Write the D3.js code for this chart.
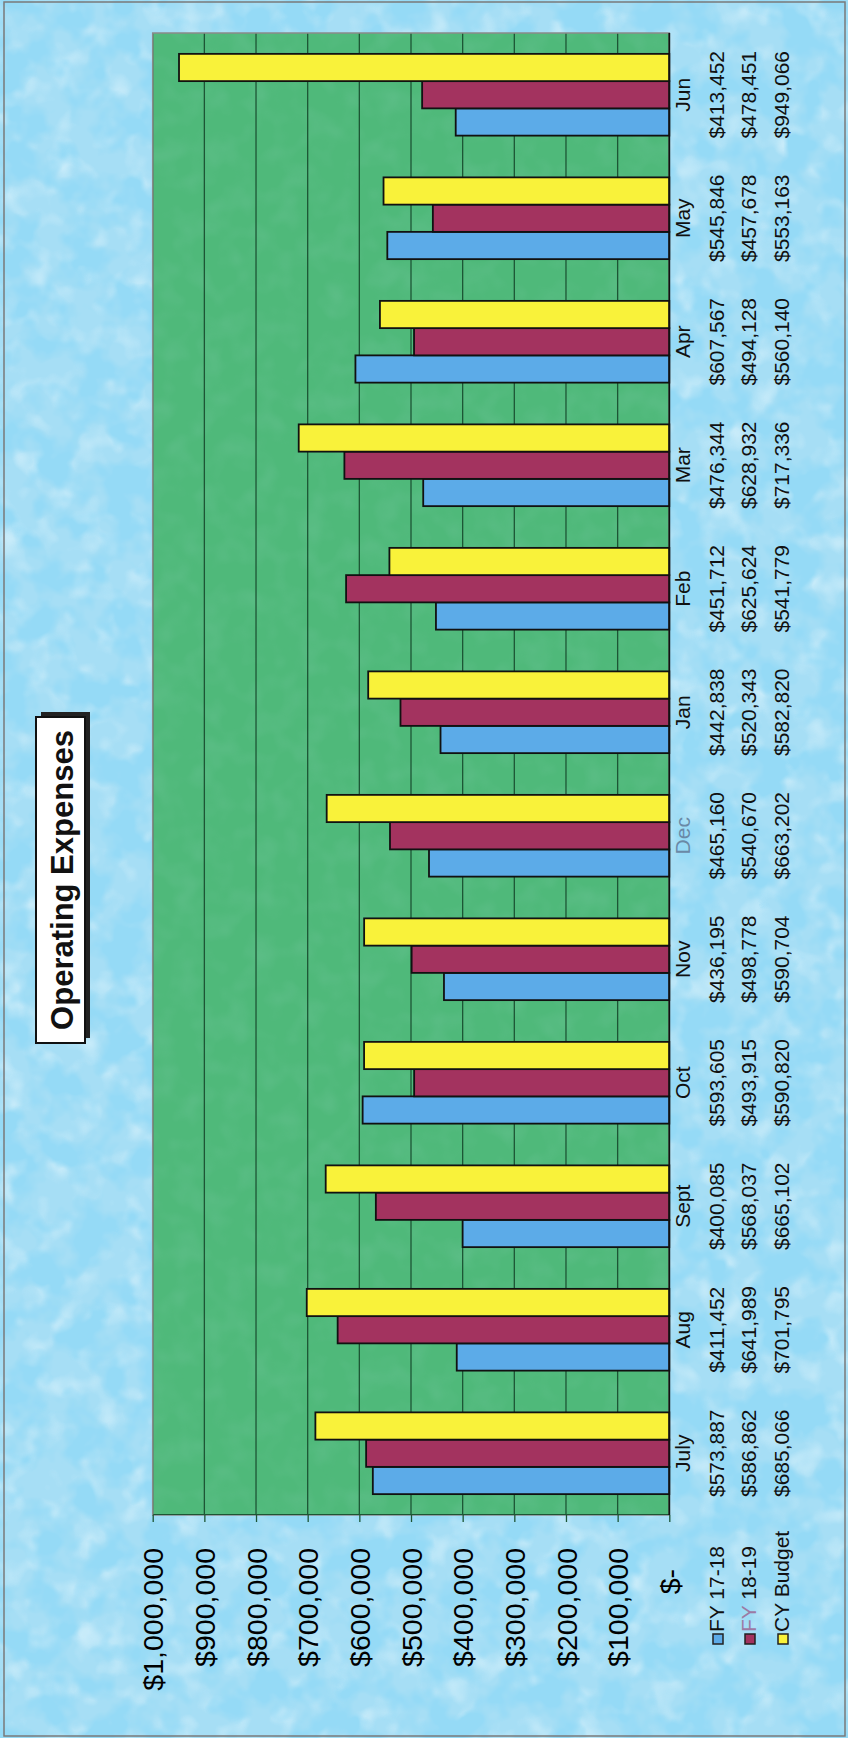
<!DOCTYPE html>
<html><head><meta charset="utf-8">
<script src="https://cdn.jsdelivr.net/npm/d3@7"></script>
<style>html,body{margin:0;padding:0;background:#fff}svg{display:block}</style>
</head><body>
<svg id="c" width="848" height="1738"></svg>
<script>
// ---- data ----
const months = ["July","Aug","Sept","Oct","Nov","Dec","Jan","Feb","Mar","Apr","May","Jun"];
const seriesNames = ["FY 17-18","FY 18-19","CY Budget"];
const fy1718 = [573887,411452,400085,593605,436195,465160,442838,451712,476344,607567,545846,413452];
const fy1819 = [586862,641989,568037,493915,498778,540670,520343,625624,628932,494128,457678,478451];
const cyBudget = [685066,701795,665102,590820,590704,663202,582820,541779,717336,560140,553163,949066];
const tickValues = [0,100000,200000,300000,400000,500000,600000,700000,800000,900000,1000000];
const tickLabels = ["$-","$100,000","$200,000","$300,000","$400,000","$500,000","$600,000","$700,000","$800,000","$900,000","$1,000,000"];
const titleText = "Operating Expenses";

// ---- styles ----
const seriesColors = ["#5cabe8","#a3335f","#f9f23a"];
const FONT = "'Liberation Sans', Arial, Helvetica, sans-serif";
const W = 1738, H = 848; // landscape frame, rotated -90deg into portrait page

const svg = d3.select("#c");
const defs = svg.append("defs");
const f = defs.append("filter").attr("id","water").attr("x",0).attr("y",0).attr("width","100%").attr("height","100%");
f.append("feTurbulence").attr("type","fractalNoise").attr("baseFrequency","0.028").attr("numOctaves",3).attr("seed",7).attr("result","n");
f.append("feColorMatrix").attr("in","n").attr("type","matrix")
  .attr("values","0 0 0 0 0.30  0 0 0 0 0.70  0 0 0 0 0.92  4.5 0 0 0 -1.9");
const f2 = defs.append("filter").attr("id","shine").attr("x",0).attr("y",0).attr("width","100%").attr("height","100%");
f2.append("feTurbulence").attr("type","fractalNoise").attr("baseFrequency","0.04").attr("numOctaves",2).attr("seed",21).attr("result","n");
f2.append("feColorMatrix").attr("in","n").attr("type","matrix")
  .attr("values","0 0 0 0 0.88  0 0 0 0 0.97  0 0 0 0 1  2.6 0 0 0 -1.25");
const f3 = defs.append("filter").attr("id","grass").attr("x",0).attr("y",0).attr("width","100%").attr("height","100%");
f3.append("feTurbulence").attr("type","fractalNoise").attr("baseFrequency","0.04").attr("numOctaves",2).attr("seed",4).attr("result","n");
f3.append("feColorMatrix").attr("in","n").attr("type","matrix")
  .attr("values","0 0 0 0 0.25  0 0 0 0 0.62  0 0 0 0 0.45  1.2 0 0 0 -0.5");

// page background
svg.append("rect").attr("width",848).attr("height",1738).attr("fill","#a6def5");
svg.append("rect").attr("width",848).attr("height",1738).attr("filter","url(#shine)").attr("opacity",0.45);
svg.append("rect").attr("width",848).attr("height",1738).attr("filter","url(#water)");
svg.append("rect").attr("x",4).attr("y",2).attr("width",841).attr("height",1734)
  .attr("fill","none").attr("stroke","#7a7a7a").attr("stroke-width",1.5);

const g = svg.append("g").attr("transform",`translate(0,${W}) rotate(-90)`);

// ---- scales ----
const plot = {x0:223, x1:1705, y0:152.7, y1:669.3};
const x = d3.scaleBand().domain(months).range([plot.x0, plot.x1]).paddingInner(0.338).paddingOuter(0.169);
const xs = d3.scaleBand().domain(seriesNames).range([0, x.bandwidth()]);
const y = d3.scaleLinear().domain([0, 1000000]).range([plot.y1, plot.y0]);

// plot area
g.append("rect").attr("x",plot.x0).attr("y",plot.y0).attr("width",plot.x1-plot.x0).attr("height",plot.y1-plot.y0)
  .attr("fill","#4fb97a");
g.append("rect").attr("x",plot.x0).attr("y",plot.y0).attr("width",plot.x1-plot.x0).attr("height",plot.y1-plot.y0)
  .attr("filter","url(#grass)").attr("opacity",0.35);

// gridlines
g.append("g").selectAll("line").data(tickValues.slice(1)).join("line")
  .attr("x1",plot.x0).attr("x2",plot.x1).attr("y1",d=>y(d)).attr("y2",d=>y(d))
  .attr("stroke","#1d5535").attr("stroke-width",1.3);

g.append("rect").attr("x",plot.x0).attr("y",plot.y0).attr("width",plot.x1-plot.x0).attr("height",plot.y1-plot.y0)
  .attr("fill","none").attr("stroke","#8a8a8a").attr("stroke-width",1.5);

// value axis
const yAxis = d3.axisLeft(y).tickValues(tickValues).tickSize(7).tickSizeOuter(0)
  .tickFormat((d,i)=>tickLabels[i]);
const ya = g.append("g").attr("transform",`translate(${plot.x0},0)`).call(yAxis);
ya.select(".domain").attr("stroke","#1d5535");
ya.selectAll(".tick line").attr("stroke","#1d5535").attr("stroke-width",1.3);
ya.selectAll(".tick text").attr("x",d=>d===0?-54:-33).attr("font-family",FONT).attr("font-size",28.5)
  .attr("fill","#000").attr("dy","0.36em");

// bars
const series = [fy1718, fy1819, cyBudget];
const groups = g.append("g").selectAll("g").data(months).join("g")
  .attr("transform",d=>`translate(${x(d)},0)`);
groups.selectAll("rect").data((m,i)=>series.map((s,k)=>({name:seriesNames[k], v:s[i], k})))
  .join("rect")
  .attr("x",d=>xs(d.name)).attr("width",xs.bandwidth())
  .attr("y",d=>y(d.v)).attr("height",d=>y(0)-y(d.v))
  .attr("fill",d=>seriesColors[d.k]).attr("stroke","#111").attr("stroke-width",1.8);

// category axis line
g.append("line").attr("x1",plot.x0).attr("x2",plot.x1).attr("y1",y(0)).attr("y2",y(0))
  .attr("stroke","#111").attr("stroke-width",1.8);

// data table
const rowY = [690, 724, 756, 789];
g.append("g").selectAll("text").data(months).join("text")
  .attr("x",d=>x(d)+x.bandwidth()/2).attr("y",rowY[0])
  .attr("text-anchor","middle").attr("font-family",FONT).attr("font-size",21)
  .attr("fill",d=>d==="Dec"?"#6a89a6":"#111").text(d=>d);
const fmt = d3.format("$,");
series.forEach((s,k)=>{
  g.append("g").selectAll("text").data(s).join("text")
    .attr("x",(d,i)=>x(months[i])+x.bandwidth()/2).attr("y",rowY[k+1])
    .attr("text-anchor","middle").attr("font-family",FONT).attr("font-size",21).attr("fill","#111")
    .text(d=>fmt(d));
});

// legend keys in table
const leg = g.append("g");
seriesNames.forEach((n,k)=>{
  leg.append("rect").attr("x",94).attr("y",rowY[k+1]-11).attr("width",10).attr("height",10)
    .attr("fill",seriesColors[k]).attr("stroke","#222").attr("stroke-width",1.5);
  const t = leg.append("text").attr("x",106).attr("y",rowY[k+1]).attr("font-family",FONT).attr("font-size",21).attr("fill","#111");
  if(k===1){
    const parts = n.split(" ");
    t.append("tspan").attr("fill","#9c7aa4").text(parts[0]);
    t.append("tspan").text(" "+parts.slice(1).join(" "));
  } else t.text(n);
});

// title
const tb = {x:695, y:36, w:326, h:49};
g.append("rect").attr("x",tb.x+5).attr("y",tb.y+5).attr("width",tb.w).attr("height",tb.h).attr("fill","#222");
g.append("rect").attr("x",tb.x).attr("y",tb.y).attr("width",tb.w).attr("height",tb.h)
  .attr("fill","#fff").attr("stroke","#111").attr("stroke-width",2);
g.append("text").attr("x",tb.x+tb.w/2).attr("y",tb.y+37).attr("text-anchor","middle")
  .attr("font-family",FONT).attr("font-weight","bold").attr("font-size",31).attr("fill","#111").text(titleText);
</script>
</body></html>
